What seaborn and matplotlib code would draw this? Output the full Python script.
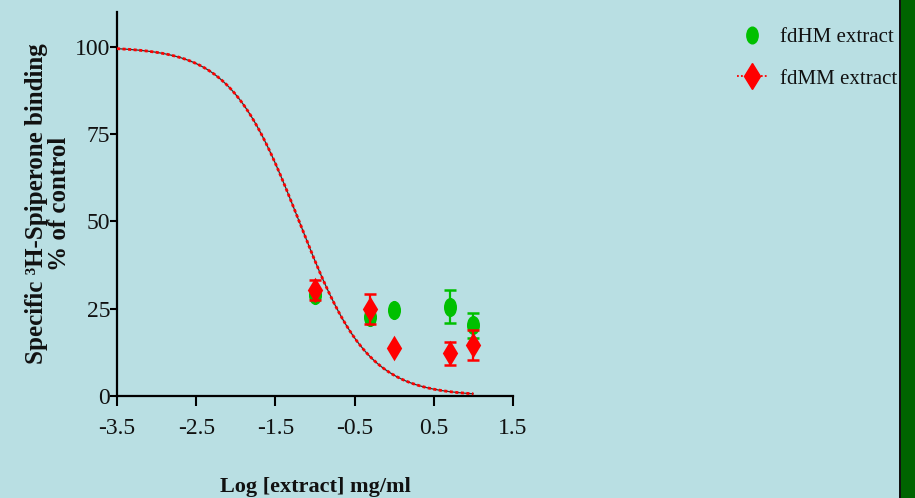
import numpy as np
import pandas as pd
import seaborn as sns
import matplotlib.pyplot as plt
from matplotlib.lines import Line2D
from matplotlib.patches import Rectangle
from matplotlib.path import Path
from matplotlib.transforms import Affine2D

# Log concentration (mg/ml) of each extract dose
log_dose = [-1.0, -0.301, 0.0, 0.699, 1.0]

# fdHM extract: mean specific binding (% of control) and SEM
hm_mean = [28.9, 22.5, 24.6, 25.6, 20.2]
hm_sem = [0.0, 0.0, 0.0, 4.7, 3.6]

# fdMM extract: mean specific binding (% of control) and SEM
mm_mean = [30.4, 24.9, 13.7, 12.2, 14.6]
mm_sem = [2.9, 4.4, 0.0, 3.3, 4.2]

# Fitted one-site competition curve parameters
fit_top = 100.0
fit_bottom = 0.0
fit_log_ic50 = -1.2
fit_hill = 1.0
fit_range = (-3.5, 1.0)

x_ticks = [-3.5, -2.5, -1.5, -0.5, 0.5, 1.5]
x_tick_labels = ["-3.5", "-2.5", "-1.5", "-0.5", "0.5", "1.5"]
y_ticks = [0, 25, 50, 75, 100]

bg = "#B9DFE3"
green = "#00C000"
red = "#FF0000"

sns.set_theme(style="ticks")
plt.rcParams["font.family"] = ["Liberation Serif", "DejaVu Serif"]

fig = plt.figure(figsize=(9.15, 4.98), dpi=100, facecolor=bg)
W, H = 915, 498
ax = fig.add_axes([117 / W, 1 - 396 / H, (513 - 117) / W, (396 - 12) / H])
ax.set_facecolor(bg)

# tall ellipse marker for the fdHM points
ellipse = Path(Affine2D().scale(0.68, 1.0).transform(Path.unit_circle().vertices),
               Path.unit_circle().codes)

# fitted curve: thin dark line under a red dotted line
xs = np.linspace(fit_range[0], fit_range[1], 300)
ys = fit_bottom + (fit_top - fit_bottom) / (1 + 10 ** ((xs - fit_log_ic50) * fit_hill))
curve = pd.DataFrame({"x": xs, "y": ys})
sns.lineplot(data=curve, x="x", y="y", ax=ax, color="#303030", lw=0.9, zorder=2)
sns.lineplot(data=curve, x="x", y="y", ax=ax, color=red, lw=2.0, zorder=3,
             linestyle=(0, (1.1, 0.9)))

hm = pd.DataFrame({"x": log_dose, "y": hm_mean, "e": hm_sem})
mm = pd.DataFrame({"x": log_dose, "y": mm_mean, "e": mm_sem})

ax.errorbar(hm["x"], hm["y"], yerr=hm["e"], fmt="none", ecolor=green,
            elinewidth=1.6, capsize=4.3, capthick=1.8, zorder=4)
sns.scatterplot(data=hm, x="x", y="y", ax=ax, marker=ellipse, s=190,
                color=green, edgecolor=green, linewidth=0, zorder=5)

ax.errorbar(mm["x"], mm["y"], yerr=mm["e"], fmt="none", ecolor=red,
            elinewidth=1.6, capsize=4.3, capthick=1.8, zorder=6)
sns.scatterplot(data=mm, x="x", y="y", ax=ax, marker="d", s=170,
                color=red, edgecolor=red, linewidth=0, zorder=7)

ax.set_xlim(-3.5, 1.5)
ax.set_ylim(0, 110)
ax.set_xticks(x_ticks)
ax.set_xticklabels(x_tick_labels)
ax.set_yticks(y_ticks)
ax.tick_params(axis="both", labelsize=17, width=1.5, color="black",
               labelcolor="#111111")
ax.tick_params(axis="x", length=7, pad=9)
ax.tick_params(axis="y", length=5, pad=0)
for s in ("top", "right"):
    ax.spines[s].set_visible(False)
for s in ("left", "bottom"):
    ax.spines[s].set_linewidth(1.6)
    ax.spines[s].set_color("black")

ax.set_xlabel("Log [extract] mg/ml", fontsize=16, fontweight="bold", labelpad=27,
              color="#111111")
ax.set_ylabel("Specific ³H-Spiperone binding\n% of control", fontsize=18,
              fontweight="bold", labelpad=3, linespacing=1.0, color="#111111")

handles = [
    Line2D([], [], marker=ellipse, color=green, linestyle="none", markersize=12),
    Line2D([], [], marker="d", color=red, linestyle=(0, (1, 1.2)), lw=1.3,
           markersize=13),
]
fig.legend(handles, ["fdHM extract", "fdMM extract"], loc="upper right",
           bbox_to_anchor=(916 / W, 1 - 9 / H), frameon=False, fontsize=15,
           handlelength=1.45, handletextpad=0.6, labelspacing=1.05,
           labelcolor="#111111")

# side band
fig.patches.append(Rectangle((899 / W, 0), 2 / W, 1, transform=fig.transFigure,
                             facecolor="#111111", edgecolor="none"))
fig.patches.append(Rectangle((901 / W, 0), 14 / W, 1, transform=fig.transFigure,
                             facecolor="#006400", edgecolor="none"))

fig.savefig("out.png", dpi=100, facecolor=bg)
